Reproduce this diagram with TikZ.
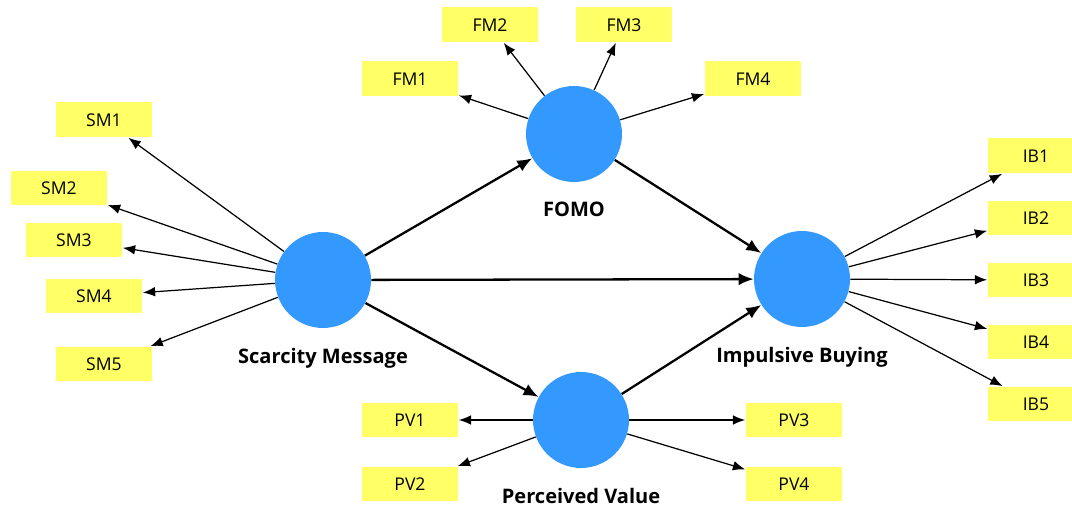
\documentclass[tikz,border=0pt]{standalone}
\usepackage{fontspec}
\setmainfont{Open Sans}
\usetikzlibrary{arrows.meta}
\definecolor{lvblue}{RGB}{51,153,255}
\definecolor{indyellow}{RGB}{255,255,102}

\begin{document}
\begin{tikzpicture}
        [x=0.02cm, y=-0.02cm,
         latent/.style={draw=none,shape=circle,fill=lvblue,inner sep=0,minimum size=1.92cm},
         item/.style={shape=rectangle,fill=indyellow,inner sep=0,minimum width=1.94cm,minimum height=0.7cm,font=\fontsize{10}{12}\selectfont},
         every label/.style={font=\fontsize{11.4}{13}\selectfont\bfseries,label distance=0.27cm},
         regpath/.style={line width=1.3pt, black, -{Latex[length=8.5pt,width=7pt]}},
         loading/.style={line width=0.7pt, black, -{Latex[length=7pt,width=5.5pt]}}]

        \useasboundingbox (0,0) rectangle (1072,506);

        \node[latent, label=below:{Scarcity Message}] (sm) at (323, 280) {};
        \node[latent, label=below:{FOMO}] (fomo) at (574, 134) {};
        \node[latent, label=below:{Impulsive Buying}] (ib) at (802, 279) {};
        \node[latent, label=below:{Perceived Value}] (pv) at (581, 420) {};

        \node[item] (sm1) at (104, 120) {SM1};
        \node[item] (sm2) at (59, 188) {SM2};
        \node[item] (sm3) at (74, 240) {SM3};
        \node[item] (sm4) at (94, 296) {SM4};
        \node[item] (sm5) at (104, 364) {SM5};

        \node[item] (fm1) at (410, 79) {FM1};
        \node[item] (fm2) at (490, 25) {FM2};
        \node[item] (fm3) at (624, 25) {FM3};
        \node[item] (fm4) at (753, 79) {FM4};

        \node[item] (ib1) at (1036, 156) {IB1};
        \node[item] (ib2) at (1036, 218) {IB2};
        \node[item] (ib3) at (1036, 280) {IB3};
        \node[item] (ib4) at (1036, 342) {IB4};
        \node[item] (ib5) at (1036, 404) {IB5};

        \node[item] (pv1) at (410, 420) {PV1};
        \node[item] (pv2) at (410, 484) {PV2};
        \node[item] (pv3) at (794, 420) {PV3};
        \node[item] (pv4) at (794, 484) {PV4};

        \draw[regpath] (sm) -- (fomo);
        \draw[regpath] (sm) -- (ib);
        \draw[regpath] (sm) -- (pv);
        \draw[regpath] (fomo) -- (ib);
        \draw[regpath] (pv) -- (ib);

        \draw[loading] (sm) -- (sm1);
        \draw[loading] (sm) -- (sm2);
        \draw[loading] (sm) -- (sm3);
        \draw[loading] (sm) -- (sm4);
        \draw[loading] (sm) -- (sm5);
        \draw[loading] (fomo) -- (fm1);
        \draw[loading] (fomo) -- (fm2);
        \draw[loading] (fomo) -- (fm3);
        \draw[loading] (fomo) -- (fm4);
        \draw[loading] (ib) -- (ib1);
        \draw[loading] (ib) -- (ib2);
        \draw[loading] (ib) -- (ib3);
        \draw[loading] (ib) -- (ib4);
        \draw[loading] (ib) -- (ib5);
        \draw[loading] (pv) -- (pv1);
        \draw[loading] (pv) -- (pv2);
        \draw[loading] (pv) -- (pv3);
        \draw[loading] (pv) -- (pv4);

      \end{tikzpicture}
\end{document}
